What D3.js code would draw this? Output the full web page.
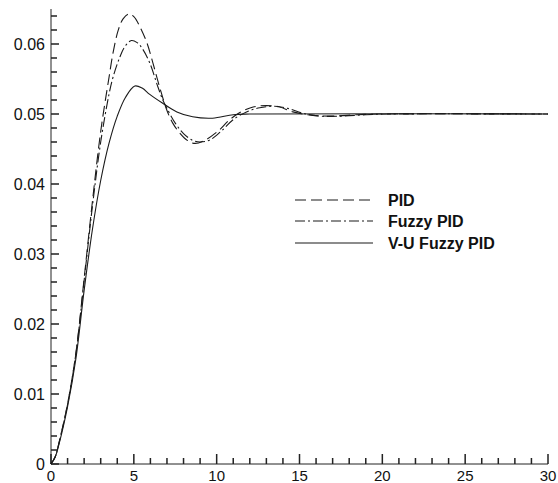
<!DOCTYPE html>
<html>
<head>
<meta charset="utf-8">
<script src="https://cdn.jsdelivr.net/npm/d3@7"></script>
<style>
    body { margin: 0; background: #fff; }
    svg { font-family: "Liberation Sans", Arial, sans-serif; }
    .line { fill: none; stroke: #1a1a1a; stroke-width: 1.1px; }
    .tk { stroke: #222; stroke-width: 1px; }
</style>
</head>
<body>
<div id="chart"></div>
<script>
// time values + responses
const pidT = [0, 0.25, 0.5, 1.0, 1.5, 2.0, 2.5, 3.0, 3.5, 3.75, 4.05, 4.35, 4.7, 5.0, 5.36, 5.8, 6.15, 6.55, 7.0, 7.35, 7.8, 8.25, 8.7, 9.4, 10.2, 10.7, 11.4, 12.2, 13.0, 13.8, 14.6, 15.8, 17.0, 18.5, 20.0, 30.0];
const pidY = [0, 0.001, 0.0032, 0.0086, 0.0158, 0.0265, 0.0375, 0.0475, 0.0552, 0.0588, 0.0619, 0.0636, 0.0643, 0.0639, 0.0625, 0.0601, 0.0573, 0.0539, 0.0505, 0.0487, 0.0472, 0.0462, 0.0458, 0.0464, 0.0478, 0.049, 0.0502, 0.051, 0.0512, 0.051, 0.0503, 0.0498, 0.0497, 0.0499, 0.05, 0.05];

const fuzzyT = [0, 0.25, 0.5, 1.0, 1.5, 2.0, 2.5, 3.0, 3.5, 3.75, 4.15, 4.45, 4.85, 5.2, 5.5, 5.96, 6.45, 6.75, 7.0, 7.5, 8.0, 8.5, 9.0, 9.6, 10.3, 11.0, 11.8, 12.6, 13.5, 14.3, 15.2, 16.2, 17.5, 19.0, 20.5, 30.0];
const fuzzyY = [0, 0.001, 0.0032, 0.0085, 0.0157, 0.0262, 0.0368, 0.046, 0.0528, 0.0553, 0.0581, 0.0596, 0.0605, 0.0602, 0.0594, 0.0573, 0.0539, 0.052, 0.0508, 0.0487, 0.0472, 0.0463, 0.046, 0.0463, 0.0476, 0.0492, 0.0503, 0.0509, 0.0511, 0.0508, 0.0501, 0.0497, 0.0497, 0.0499, 0.05, 0.05];

const vuT = [0, 0.25, 0.5, 1.0, 1.5, 2.0, 2.5, 3.0, 3.5, 4.0, 4.5, 5.06, 5.5, 5.96, 6.7, 7.6, 8.55, 9.75, 11.0, 12.0, 30.0];
const vuY = [0, 0.001, 0.003, 0.0082, 0.015, 0.0248, 0.0335, 0.0405, 0.0458, 0.0497, 0.0524, 0.054, 0.0537, 0.0528, 0.0516, 0.0503, 0.0496, 0.0494, 0.0499, 0.05, 0.05];

const seriesNames = ["PID", "Fuzzy PID", "V-U Fuzzy PID"];
const xTicks = [0, 5, 10, 15, 20, 25, 30];
const yTicks = [0, 0.01, 0.02, 0.03, 0.04, 0.05, 0.06];

const width = 558, height = 483;
const margin = { top: 9, right: 10, bottom: 19, left: 51 };

const svg = d3.select("#chart").append("svg")
    .attr("width", width)
    .attr("height", height);

const x = d3.scaleLinear().domain([0, 30]).range([margin.left, width - margin.right]);
const y = d3.scaleLinear().domain([0, 0.065]).range([height - margin.bottom, margin.top]);

const x0 = x(0), y0 = y(0);

// tick marks pointing inward, majors longer
svg.append("g").selectAll("rect")
    .data(d3.range(0, 31))
    .join("rect")
    .attr("x", d => x(d) - 0.75)
    .attr("width", 1.5)
    .attr("y", d => y0 - (d % 5 === 0 ? 10 : 6))
    .attr("height", d => (d % 5 === 0 ? 10 : 6))
    .attr("fill", "#222");

svg.append("g").selectAll("rect")
    .data(d3.range(0, 33))
    .join("rect")
    .attr("x", x0)
    .attr("width", i => (i % 5 === 0 ? 8 : 6))
    .attr("y", i => y(i * 0.002) - 0.75)
    .attr("height", 1.5)
    .attr("fill", "#222");

// axis lines
svg.append("line").attr("class", "tk")
    .attr("x1", x0).attr("x2", x(30)).attr("y1", y0).attr("y2", y0);
svg.append("line").attr("class", "tk")
    .attr("x1", x0).attr("x2", x0).attr("y1", y0).attr("y2", y(0.065));

svg.append("g").selectAll("text")
    .data(xTicks)
    .join("text")
    .attr("x", d => x(d))
    .attr("y", y(0) + 17)
    .attr("text-anchor", "middle")
    .attr("font-size", 15)
    .attr("fill", "#111")
    .text(d => d);

svg.append("g").selectAll("text")
    .data(yTicks)
    .join("text")
    .attr("x", x(0) - 6)
    .attr("y", d => y(d))
    .attr("dy", "0.36em")
    .attr("text-anchor", "end")
    .attr("font-size", 16)
    .attr("fill", "#111")
    .text(d => d === 0 ? "0" : d.toFixed(2));

// the three response curves
const line = d3.line()
    .x(d => x(d[0]))
    .y(d => y(d[1]))
    .curve(d3.curveCatmullRom.alpha(0.5));

const dashes = ["11,5", "10,3,2,3", null];
const series = [
    d3.zip(pidT, pidY),
    d3.zip(fuzzyT, fuzzyY),
    d3.zip(vuT, vuY)
];

svg.append("g").selectAll("path")
    .data(series)
    .join("path")
    .attr("class", "line")
    .attr("d", line)
    .attr("stroke-dasharray", (d, i) => dashes[i]);

// legend
const legend = svg.append("g");
const legendY = [200, 221, 243];
seriesNames.forEach((name, i) => {
    legend.append("line")
        .attr("class", "line")
        .attr("x1", 295).attr("x2", 373)
        .attr("y1", legendY[i]).attr("y2", legendY[i])
        .attr("stroke-dasharray", dashes[i]);
    legend.append("text")
        .attr("x", 388)
        .attr("y", legendY[i])
        .attr("dy", "0.36em")
        .attr("font-size", 16)
        .attr("font-weight", "bold")
        .attr("fill", "#111")
        .text(name);
});
</script>
</body>
</html>
